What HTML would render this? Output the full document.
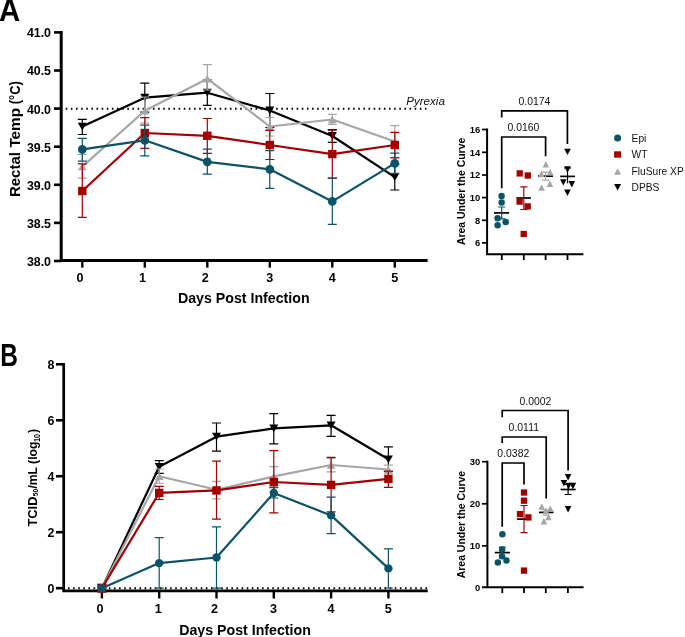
<!DOCTYPE html>
<html><head><meta charset="utf-8"><style>html,body{margin:0;padding:0;background:#fff;width:685px;height:637px;overflow:hidden}svg{display:block;will-change:transform}text{font-family:"Liberation Sans",sans-serif}</style></head>
<body>
<svg width="685" height="637" viewBox="0 0 685 637" font-family="Liberation Sans, sans-serif">
<rect width="685" height="637" fill="#fff"/>
<text transform="translate(-0.9 21.0) scale(0.91 1)" font-size="32.2" font-weight="bold">A</text>
<path d="M61.2 31V261.9M59.7 260.4H427.6" stroke="#000" stroke-width="3" fill="none"/>
<path d="M54 32.40H61" stroke="#000" stroke-width="2.6"/>
<text x="51.00" y="37.30" font-size="12.4" font-weight="bold" text-anchor="end" font-style="normal" fill="#000" >41.0</text>
<path d="M54 70.50H61" stroke="#000" stroke-width="2.6"/>
<text x="51.00" y="75.40" font-size="12.4" font-weight="bold" text-anchor="end" font-style="normal" fill="#000" >40.5</text>
<path d="M54 108.60H61" stroke="#000" stroke-width="2.6"/>
<text x="51.00" y="113.50" font-size="12.4" font-weight="bold" text-anchor="end" font-style="normal" fill="#000" >40.0</text>
<path d="M54 146.70H61" stroke="#000" stroke-width="2.6"/>
<text x="51.00" y="151.60" font-size="12.4" font-weight="bold" text-anchor="end" font-style="normal" fill="#000" >39.5</text>
<path d="M54 184.80H61" stroke="#000" stroke-width="2.6"/>
<text x="51.00" y="189.70" font-size="12.4" font-weight="bold" text-anchor="end" font-style="normal" fill="#000" >39.0</text>
<path d="M54 222.90H61" stroke="#000" stroke-width="2.6"/>
<text x="51.00" y="227.80" font-size="12.4" font-weight="bold" text-anchor="end" font-style="normal" fill="#000" >38.5</text>
<path d="M54 261.00H61" stroke="#000" stroke-width="2.6"/>
<text x="51.00" y="265.90" font-size="12.4" font-weight="bold" text-anchor="end" font-style="normal" fill="#000" >38.0</text>
<path d="M82.30 260H82.30V267.6" stroke="#000" stroke-width="2.4"/>
<text x="80.10" y="281.90" font-size="12.6" font-weight="bold" text-anchor="middle" font-style="normal" fill="#000" >0</text>
<path d="M144.80 260H144.80V267.6" stroke="#000" stroke-width="2.4"/>
<text x="142.60" y="281.90" font-size="12.6" font-weight="bold" text-anchor="middle" font-style="normal" fill="#000" >1</text>
<path d="M207.30 260H207.30V267.6" stroke="#000" stroke-width="2.4"/>
<text x="205.30" y="281.90" font-size="12.6" font-weight="bold" text-anchor="middle" font-style="normal" fill="#000" >2</text>
<path d="M269.80 260H269.80V267.6" stroke="#000" stroke-width="2.4"/>
<text x="269.80" y="281.90" font-size="12.6" font-weight="bold" text-anchor="middle" font-style="normal" fill="#000" >3</text>
<path d="M332.30 260H332.30V267.6" stroke="#000" stroke-width="2.4"/>
<text x="332.30" y="281.90" font-size="12.6" font-weight="bold" text-anchor="middle" font-style="normal" fill="#000" >4</text>
<path d="M394.80 260H394.80V267.6" stroke="#000" stroke-width="2.4"/>
<text x="394.80" y="281.90" font-size="12.6" font-weight="bold" text-anchor="middle" font-style="normal" fill="#000" >5</text>
<text x="243.80" y="303.40" font-size="14.2" font-weight="bold" text-anchor="middle" font-style="normal" fill="#000" >Days Post Infection</text>
<g transform="translate(20.4 0) rotate(-90)" font-size="14" font-weight="bold"><text x="-197.1" textLength="45.1" lengthAdjust="spacingAndGlyphs">Rectal</text><text x="-147.6" textLength="39.6" lengthAdjust="spacingAndGlyphs">Temp</text><text x="-104.3" textLength="23.0" lengthAdjust="spacingAndGlyphs">(°C)</text></g>
<line x1="65.7" y1="108.75" x2="426.4" y2="108.75" stroke="#000" stroke-width="1.9" stroke-dasharray="1.6 3.532"/>
<text x="406.20" y="104.60" font-size="11.6" font-weight="normal" text-anchor="start" font-style="italic" fill="#111" >Pyrexia</text>
<polyline points="82.30,126.60 144.80,97.70 207.30,92.70 269.80,110.50 332.30,136.00 394.80,177.20" stroke="#000" stroke-width="2.2" fill="none" stroke-linejoin="round"/>
<path d="M82.30 119.40V134.50M77.80 119.40h9M77.80 134.50h9" stroke="#000" stroke-width="1.2" fill="none"/>
<path d="M144.80 83.20V112.20M140.30 83.20h9M140.30 112.20h9" stroke="#000" stroke-width="1.2" fill="none"/>
<path d="M207.30 80.00V105.30M202.80 80.00h9M202.80 105.30h9" stroke="#000" stroke-width="1.2" fill="none"/>
<path d="M269.80 93.50V127.50M265.30 93.50h9M265.30 127.50h9" stroke="#000" stroke-width="1.2" fill="none"/>
<path d="M332.30 129.60V142.40M327.80 129.60h9M327.80 142.40h9" stroke="#000" stroke-width="1.2" fill="none"/>
<path d="M394.80 164.40V190.00M390.30 164.40h9M390.30 190.00h9" stroke="#000" stroke-width="1.2" fill="none"/>
<path d="M77.80 122.70H86.80L82.30 130.50Z" fill="#000"/>
<path d="M140.30 93.80H149.30L144.80 101.60Z" fill="#000"/>
<path d="M202.80 88.80H211.80L207.30 96.60Z" fill="#000"/>
<path d="M265.30 106.60H274.30L269.80 114.40Z" fill="#000"/>
<path d="M327.80 132.10H336.80L332.30 139.90Z" fill="#000"/>
<path d="M390.30 173.30H399.30L394.80 181.10Z" fill="#000"/>
<polyline points="82.30,166.60 144.80,110.80 207.30,78.70 269.80,126.50 332.30,119.50 394.80,141.50" stroke="#a6a6a8" stroke-width="2.2" fill="none" stroke-linejoin="round"/>
<path d="M82.30 154.40V178.20M77.80 154.40h9M77.80 178.20h9" stroke="#a6a6a8" stroke-width="1.2" fill="none"/>
<path d="M144.80 97.00V123.10M140.30 97.00h9M140.30 123.10h9" stroke="#a6a6a8" stroke-width="1.2" fill="none"/>
<path d="M207.30 64.60V90.00M202.80 64.60h9M202.80 90.00h9" stroke="#a6a6a8" stroke-width="1.2" fill="none"/>
<path d="M269.80 117.50V136.00M265.30 117.50h9M265.30 136.00h9" stroke="#a6a6a8" stroke-width="1.2" fill="none"/>
<path d="M332.30 114.30V124.30M327.80 114.30h9M327.80 124.30h9" stroke="#a6a6a8" stroke-width="1.2" fill="none"/>
<path d="M394.80 125.60V157.40M390.30 125.60h9M390.30 157.40h9" stroke="#a6a6a8" stroke-width="1.2" fill="none"/>
<path d="M82.30 162.85L86.60 170.35H78.00Z" fill="#a6a6a8"/>
<path d="M144.80 107.05L149.10 114.55H140.50Z" fill="#a6a6a8"/>
<path d="M207.30 74.95L211.60 82.45H203.00Z" fill="#a6a6a8"/>
<path d="M269.80 122.75L274.10 130.25H265.50Z" fill="#a6a6a8"/>
<path d="M332.30 115.75L336.60 123.25H328.00Z" fill="#a6a6a8"/>
<path d="M394.80 137.75L399.10 145.25H390.50Z" fill="#a6a6a8"/>
<polyline points="82.30,191.00 144.80,133.00 207.30,135.80 269.80,145.00 332.30,154.10 394.80,145.00" stroke="#a50000" stroke-width="2.2" fill="none" stroke-linejoin="round"/>
<path d="M82.30 163.90V217.40M77.80 163.90h9M77.80 217.40h9" stroke="#a50000" stroke-width="1.2" fill="none"/>
<path d="M144.80 117.70V148.30M140.30 117.70h9M140.30 148.30h9" stroke="#a50000" stroke-width="1.2" fill="none"/>
<path d="M207.30 118.50V153.40M202.80 118.50h9M202.80 153.40h9" stroke="#a50000" stroke-width="1.2" fill="none"/>
<path d="M269.80 130.30V159.50M265.30 130.30h9M265.30 159.50h9" stroke="#a50000" stroke-width="1.2" fill="none"/>
<path d="M332.30 130.10V178.20M327.80 130.10h9M327.80 178.20h9" stroke="#a50000" stroke-width="1.2" fill="none"/>
<path d="M394.80 132.30V157.90M390.30 132.30h9M390.30 157.90h9" stroke="#a50000" stroke-width="1.2" fill="none"/>
<rect x="78.10" y="186.80" width="8.40" height="8.40" fill="#a50000"/>
<rect x="140.60" y="128.80" width="8.40" height="8.40" fill="#a50000"/>
<rect x="203.10" y="131.60" width="8.40" height="8.40" fill="#a50000"/>
<rect x="265.60" y="140.80" width="8.40" height="8.40" fill="#a50000"/>
<rect x="328.10" y="149.90" width="8.40" height="8.40" fill="#a50000"/>
<rect x="390.60" y="140.80" width="8.40" height="8.40" fill="#a50000"/>
<polyline points="82.30,149.40 144.80,140.30 207.30,161.90 269.80,169.30 332.30,201.40 394.80,163.40" stroke="#0b5468" stroke-width="2.2" fill="none" stroke-linejoin="round"/>
<path d="M82.30 138.30V161.20M77.80 138.30h9M77.80 161.20h9" stroke="#0b5468" stroke-width="1.2" fill="none"/>
<path d="M144.80 125.20V155.90M140.30 125.20h9M140.30 155.90h9" stroke="#0b5468" stroke-width="1.2" fill="none"/>
<path d="M207.30 149.10V174.20M202.80 149.10h9M202.80 174.20h9" stroke="#0b5468" stroke-width="1.2" fill="none"/>
<path d="M269.80 150.70V188.40M265.30 150.70h9M265.30 188.40h9" stroke="#0b5468" stroke-width="1.2" fill="none"/>
<path d="M332.30 178.20V224.40M327.80 178.20h9M327.80 224.40h9" stroke="#0b5468" stroke-width="1.2" fill="none"/>
<path d="M394.80 153.20V173.40M390.30 153.20h9M390.30 173.40h9" stroke="#0b5468" stroke-width="1.2" fill="none"/>
<circle cx="82.30" cy="149.40" r="4.35" fill="#0b5468"/>
<circle cx="144.80" cy="140.30" r="4.35" fill="#0b5468"/>
<circle cx="207.30" cy="161.90" r="4.35" fill="#0b5468"/>
<circle cx="269.80" cy="169.30" r="4.35" fill="#0b5468"/>
<circle cx="332.30" cy="201.40" r="4.35" fill="#0b5468"/>
<circle cx="394.80" cy="163.40" r="4.35" fill="#0b5468"/>
<path d="M487.1 128.6V255.3M486.1 254.3H583.4" stroke="#000" stroke-width="2"/>
<path d="M482 129.50H487" stroke="#000" stroke-width="1.7"/>
<text x="480.30" y="132.90" font-size="9.4" font-weight="bold" text-anchor="end" font-style="normal" fill="#000" >16</text>
<path d="M482 152.30H487" stroke="#000" stroke-width="1.7"/>
<text x="480.30" y="155.70" font-size="9.4" font-weight="bold" text-anchor="end" font-style="normal" fill="#000" >14</text>
<path d="M482 175.00H487" stroke="#000" stroke-width="1.7"/>
<text x="480.30" y="178.40" font-size="9.4" font-weight="bold" text-anchor="end" font-style="normal" fill="#000" >12</text>
<path d="M482 197.60H487" stroke="#000" stroke-width="1.7"/>
<text x="480.30" y="201.00" font-size="9.4" font-weight="bold" text-anchor="end" font-style="normal" fill="#000" >10</text>
<path d="M482 220.30H487" stroke="#000" stroke-width="1.7"/>
<text x="480.30" y="223.70" font-size="9.4" font-weight="bold" text-anchor="end" font-style="normal" fill="#000" >8</text>
<path d="M482 242.90H487" stroke="#000" stroke-width="1.7"/>
<text x="480.30" y="246.30" font-size="9.4" font-weight="bold" text-anchor="end" font-style="normal" fill="#000" >6</text>
<path d="M501.80 254V260" stroke="#000" stroke-width="1.8"/>
<path d="M523.80 254V260" stroke="#000" stroke-width="1.8"/>
<path d="M545.60 254V260" stroke="#000" stroke-width="1.8"/>
<path d="M567.50 254V260" stroke="#000" stroke-width="1.8"/>
<text transform="translate(464.8 191.4) rotate(-90)" font-size="10.45" font-weight="bold" text-anchor="middle">Area Under the Curve</text>
<path d="M501.7 188.3V137H545.6V156.3" stroke="#000" stroke-width="1.7" fill="none"/>
<path d="M501.7 117.4V110.9H567.4V144" stroke="#000" stroke-width="1.7" fill="none"/>
<text x="523.40" y="131.00" font-size="10.45" font-weight="normal" text-anchor="middle" font-style="normal" fill="#111" >0.0160</text>
<text x="534.40" y="105.20" font-size="10.45" font-weight="normal" text-anchor="middle" font-style="normal" fill="#111" >0.0174</text>
<path d="M560.20 176.40H575.00" stroke="#000" stroke-width="1.7"/>
<path d="M564.20 148.70H570.80L567.50 155.10Z" fill="#000"/>
<path d="M564.20 166.30H570.80L567.50 172.70Z" fill="#000"/>
<path d="M560.00 179.20H566.60L563.30 185.60Z" fill="#000"/>
<path d="M568.50 181.00H575.10L571.80 187.40Z" fill="#000"/>
<path d="M564.20 189.50H570.80L567.50 195.90Z" fill="#000"/>
<path d="M567.50 168.00V183.30M564.00 168.00h7" stroke="#000" stroke-width="1.2" fill="none"/>
<path d="M538.00 176.10H553.00" stroke="#000" stroke-width="1.7"/>
<path d="M545.80 161.00L549.10 167.40H542.50Z" fill="#a6a6a8"/>
<path d="M550.20 169.00L553.50 175.40H546.90Z" fill="#a6a6a8"/>
<path d="M541.40 170.80L544.70 177.20H538.10Z" fill="#a6a6a8"/>
<path d="M549.90 180.50L553.20 186.90H546.60Z" fill="#a6a6a8"/>
<path d="M541.60 184.30L544.90 190.70H538.30Z" fill="#a6a6a8"/>
<path d="M545.60 172.20V180.20M542.10 172.20h7M542.10 180.20h7" stroke="#a6a6a8" stroke-width="1.2" fill="none"/>
<path d="M516.40 198.00H530.90" stroke="#000" stroke-width="1.7"/>
<rect x="516.55" y="170.25" width="6.30" height="6.30" fill="#a50000"/>
<rect x="524.65" y="172.35" width="6.30" height="6.30" fill="#a50000"/>
<rect x="516.45" y="198.45" width="6.30" height="6.30" fill="#a50000"/>
<rect x="524.55" y="203.25" width="6.30" height="6.30" fill="#a50000"/>
<rect x="520.55" y="230.85" width="6.30" height="6.30" fill="#a50000"/>
<path d="M523.80 186.90V209.50M520.30 186.90h7M520.30 209.50h7" stroke="#a50000" stroke-width="1.2" fill="none"/>
<path d="M494.00 212.90H509.10" stroke="#000" stroke-width="1.7"/>
<circle cx="501.60" cy="196.10" r="3.25" fill="#0b5468"/>
<circle cx="501.60" cy="202.40" r="3.25" fill="#0b5468"/>
<circle cx="497.60" cy="218.30" r="3.25" fill="#0b5468"/>
<circle cx="505.70" cy="222.10" r="3.25" fill="#0b5468"/>
<circle cx="497.60" cy="225.20" r="3.25" fill="#0b5468"/>
<path d="M501.70 207.00V218.80M498.20 207.00h7M498.20 218.80h7" stroke="#0b5468" stroke-width="1.2" fill="none"/>
<circle cx="617.6" cy="138" r="3.5" fill="#0b5468"/>
<rect x="614.1" y="151.3" width="7" height="6.4" fill="#a50000"/>
<path d="M617.60 168.30L621.10 174.70H614.10Z" fill="#a6a6a8"/>
<path d="M614.10 184.00H621.10L617.60 190.40Z" fill="#000"/>
<text x="631.60" y="141.60" font-size="10.2" font-weight="normal" text-anchor="start" font-style="normal" fill="#111" >Epi</text>
<text x="631.60" y="157.90" font-size="10.2" font-weight="normal" text-anchor="start" font-style="normal" fill="#111" >WT</text>
<text x="631.60" y="174.60" font-size="10.2" font-weight="normal" text-anchor="start" font-style="normal" fill="#111" >FluSure XP</text>
<text x="631.60" y="190.60" font-size="10.2" font-weight="normal" text-anchor="start" font-style="normal" fill="#111" >DPBS</text>
<text transform="translate(0.3 365.8) scale(0.77 1)" font-size="31.8" font-weight="bold">B</text>
<path d="M63.7 363.0V592.2M62.3 590.8H427.7" stroke="#000" stroke-width="2.7" fill="none"/>
<path d="M56 364.30H63" stroke="#000" stroke-width="2.6"/>
<text x="54.30" y="368.90" font-size="12.4" font-weight="bold" text-anchor="end" font-style="normal" fill="#000" >8</text>
<path d="M56 420.27H63" stroke="#000" stroke-width="2.6"/>
<text x="54.30" y="424.87" font-size="12.4" font-weight="bold" text-anchor="end" font-style="normal" fill="#000" >6</text>
<path d="M56 476.24H63" stroke="#000" stroke-width="2.6"/>
<text x="54.30" y="480.84" font-size="12.4" font-weight="bold" text-anchor="end" font-style="normal" fill="#000" >4</text>
<path d="M56 532.21H63" stroke="#000" stroke-width="2.6"/>
<text x="54.30" y="536.81" font-size="12.4" font-weight="bold" text-anchor="end" font-style="normal" fill="#000" >2</text>
<path d="M56 588.18H63" stroke="#000" stroke-width="2.6"/>
<text x="54.30" y="592.78" font-size="12.4" font-weight="bold" text-anchor="end" font-style="normal" fill="#000" >0</text>
<path d="M101.90 590H101.90V598.5" stroke="#000" stroke-width="2.4"/>
<text x="100.10" y="612.50" font-size="12.6" font-weight="bold" text-anchor="middle" font-style="normal" fill="#000" >0</text>
<path d="M159.20 590H159.20V598.5" stroke="#000" stroke-width="2.4"/>
<text x="158.20" y="612.50" font-size="12.6" font-weight="bold" text-anchor="middle" font-style="normal" fill="#000" >1</text>
<path d="M216.50 590H216.50V598.5" stroke="#000" stroke-width="2.4"/>
<text x="214.50" y="612.50" font-size="12.6" font-weight="bold" text-anchor="middle" font-style="normal" fill="#000" >2</text>
<path d="M273.80 590H273.80V598.5" stroke="#000" stroke-width="2.4"/>
<text x="273.40" y="612.50" font-size="12.6" font-weight="bold" text-anchor="middle" font-style="normal" fill="#000" >3</text>
<path d="M331.10 590H331.10V598.5" stroke="#000" stroke-width="2.4"/>
<text x="331.10" y="612.50" font-size="12.6" font-weight="bold" text-anchor="middle" font-style="normal" fill="#000" >4</text>
<path d="M388.40 590H388.40V598.5" stroke="#000" stroke-width="2.4"/>
<text x="388.30" y="612.50" font-size="12.6" font-weight="bold" text-anchor="middle" font-style="normal" fill="#000" >5</text>
<text x="245.00" y="634.50" font-size="14.2" font-weight="bold" text-anchor="middle" font-style="normal" fill="#000" >Days Post Infection</text>
<g transform="translate(36.9 0) rotate(-90)" font-size="12.4" font-weight="bold"><text x="-526.5" textLength="29.9" lengthAdjust="spacingAndGlyphs">TCID</text><text x="-496.3" dy="0.9" font-size="7.8" font-weight="bold" textLength="7.4" lengthAdjust="spacingAndGlyphs">50</text><text x="-488.6" textLength="46.9" lengthAdjust="spacingAndGlyphs">/mL (log</text><text x="-442.0" dy="2.7" font-size="8.4" font-weight="bold" textLength="8.2" lengthAdjust="spacingAndGlyphs">10</text><text x="-432.9" textLength="4.1" lengthAdjust="spacingAndGlyphs">)</text></g>
<line x1="68.0" y1="588.25" x2="427" y2="588.25" stroke="#000" stroke-width="1.9" stroke-dasharray="1.6 3.506"/>
<polyline points="101.90,588.20 159.20,466.80 216.50,436.70 273.80,428.40 331.10,425.30 388.40,459.30" stroke="#000" stroke-width="2.2" fill="none" stroke-linejoin="round"/>
<path d="M159.20 460.60V473.30M154.70 460.60h9M154.70 473.30h9" stroke="#000" stroke-width="1.2" fill="none"/>
<path d="M216.50 423.00V451.20M212.00 423.00h9M212.00 451.20h9" stroke="#000" stroke-width="1.2" fill="none"/>
<path d="M273.80 413.60V443.80M269.30 413.60h9M269.30 443.80h9" stroke="#000" stroke-width="1.2" fill="none"/>
<path d="M331.10 415.40V436.40M326.60 415.40h9M326.60 436.40h9" stroke="#000" stroke-width="1.2" fill="none"/>
<path d="M388.40 446.80V471.50M383.90 446.80h9M383.90 471.50h9" stroke="#000" stroke-width="1.2" fill="none"/>
<path d="M97.40 584.30H106.40L101.90 592.10Z" fill="#000"/>
<path d="M154.70 462.90H163.70L159.20 470.70Z" fill="#000"/>
<path d="M212.00 432.80H221.00L216.50 440.60Z" fill="#000"/>
<path d="M269.30 424.50H278.30L273.80 432.30Z" fill="#000"/>
<path d="M326.60 421.40H335.60L331.10 429.20Z" fill="#000"/>
<path d="M383.90 455.40H392.90L388.40 463.20Z" fill="#000"/>
<polyline points="101.90,588.20 159.20,476.30 216.50,489.80 273.80,476.40 331.10,465.00 388.40,469.50" stroke="#a6a6a8" stroke-width="2.2" fill="none" stroke-linejoin="round"/>
<path d="M159.20 469.00V483.50M154.70 469.00h9M154.70 483.50h9" stroke="#a6a6a8" stroke-width="1.2" fill="none"/>
<path d="M216.50 481.40V498.90M212.00 481.40h9M212.00 498.90h9" stroke="#a6a6a8" stroke-width="1.2" fill="none"/>
<path d="M273.80 466.60V486.20M269.30 466.60h9M269.30 486.20h9" stroke="#a6a6a8" stroke-width="1.2" fill="none"/>
<path d="M331.10 458.50V471.90M326.60 458.50h9M326.60 471.90h9" stroke="#a6a6a8" stroke-width="1.2" fill="none"/>
<path d="M388.40 465.20V473.30M383.90 465.20h9M383.90 473.30h9" stroke="#a6a6a8" stroke-width="1.2" fill="none"/>
<path d="M101.90 584.45L106.20 591.95H97.60Z" fill="#a6a6a8"/>
<path d="M159.20 472.55L163.50 480.05H154.90Z" fill="#a6a6a8"/>
<path d="M216.50 486.05L220.80 493.55H212.20Z" fill="#a6a6a8"/>
<path d="M273.80 472.65L278.10 480.15H269.50Z" fill="#a6a6a8"/>
<path d="M331.10 461.25L335.40 468.75H326.80Z" fill="#a6a6a8"/>
<path d="M388.40 465.75L392.70 473.25H384.10Z" fill="#a6a6a8"/>
<polyline points="101.90,588.20 159.20,492.90 216.50,490.40 273.80,482.00 331.10,484.90 388.40,478.90" stroke="#a50000" stroke-width="2.2" fill="none" stroke-linejoin="round"/>
<path d="M159.20 486.30V499.50M154.70 486.30h9M154.70 499.50h9" stroke="#a50000" stroke-width="1.2" fill="none"/>
<path d="M216.50 461.20V519.20M212.00 461.20h9M212.00 519.20h9" stroke="#a50000" stroke-width="1.2" fill="none"/>
<path d="M273.80 450.70V512.80M269.30 450.70h9M269.30 512.80h9" stroke="#a50000" stroke-width="1.2" fill="none"/>
<path d="M331.10 457.40V511.90M326.60 457.40h9M326.60 511.90h9" stroke="#a50000" stroke-width="1.2" fill="none"/>
<path d="M388.40 471.10V487.40M383.90 471.10h9M383.90 487.40h9" stroke="#a50000" stroke-width="1.2" fill="none"/>
<rect x="97.30" y="583.60" width="9.20" height="9.20" fill="#a50000"/>
<rect x="155.00" y="488.70" width="8.40" height="8.40" fill="#a50000"/>
<rect x="212.30" y="486.20" width="8.40" height="8.40" fill="#a50000"/>
<rect x="269.60" y="477.80" width="8.40" height="8.40" fill="#a50000"/>
<rect x="326.90" y="480.70" width="8.40" height="8.40" fill="#a50000"/>
<rect x="384.20" y="474.70" width="8.40" height="8.40" fill="#a50000"/>
<polyline points="101.90,588.20 159.20,563.10 216.50,557.50 273.80,493.00 331.10,515.40 388.40,568.40" stroke="#0b5468" stroke-width="2.2" fill="none" stroke-linejoin="round"/>
<path d="M159.20 537.70V588.20M154.70 537.70h9M154.70 588.20h9" stroke="#0b5468" stroke-width="1.2" fill="none"/>
<path d="M216.50 526.80V588.20M212.00 526.80h9M212.00 588.20h9" stroke="#0b5468" stroke-width="1.2" fill="none"/>
<path d="M273.80 487.70V498.00M269.30 487.70h9M269.30 498.00h9" stroke="#0b5468" stroke-width="1.2" fill="none"/>
<path d="M331.10 497.10V533.60M326.60 497.10h9M326.60 533.60h9" stroke="#0b5468" stroke-width="1.2" fill="none"/>
<path d="M388.40 548.90V588.00M383.90 548.90h9M383.90 588.00h9" stroke="#0b5468" stroke-width="1.2" fill="none"/>
<circle cx="101.90" cy="588.20" r="4.20" fill="#0b5468"/>
<circle cx="159.20" cy="563.10" r="4.20" fill="#0b5468"/>
<circle cx="216.50" cy="557.50" r="4.20" fill="#0b5468"/>
<circle cx="273.80" cy="493.00" r="4.20" fill="#0b5468"/>
<circle cx="331.10" cy="515.40" r="4.20" fill="#0b5468"/>
<circle cx="388.40" cy="568.40" r="4.20" fill="#0b5468"/>
<path d="M487.4 460.85V588.2M482 587.2H583.6" stroke="#000" stroke-width="2"/>
<path d="M482 461.70H487" stroke="#000" stroke-width="1.7"/>
<text x="480.30" y="465.10" font-size="9.4" font-weight="bold" text-anchor="end" font-style="normal" fill="#000" >30</text>
<path d="M482 503.80H487" stroke="#000" stroke-width="1.7"/>
<text x="480.30" y="507.20" font-size="9.4" font-weight="bold" text-anchor="end" font-style="normal" fill="#000" >20</text>
<path d="M482 545.90H487" stroke="#000" stroke-width="1.7"/>
<text x="480.30" y="549.30" font-size="9.4" font-weight="bold" text-anchor="end" font-style="normal" fill="#000" >10</text>
<text x="480.30" y="590.60" font-size="9.4" font-weight="bold" text-anchor="end" font-style="normal" fill="#000" >0</text>
<path d="M502.30 587V593.1" stroke="#000" stroke-width="1.8"/>
<path d="M524.00 587V593.1" stroke="#000" stroke-width="1.8"/>
<path d="M545.80 587V593.1" stroke="#000" stroke-width="1.8"/>
<path d="M567.90 587V593.1" stroke="#000" stroke-width="1.8"/>
<text transform="translate(465.0 524.6) rotate(-90)" font-size="10.45" font-weight="bold" text-anchor="middle">Area Under the Curve</text>
<path d="M502.2 526.7V463H524V484.6" stroke="#000" stroke-width="1.7" fill="none"/>
<path d="M502.2 442.9V437H546.2V498.4" stroke="#000" stroke-width="1.7" fill="none"/>
<path d="M502.2 417.2V410.5H568.1V470.5" stroke="#000" stroke-width="1.7" fill="none"/>
<text x="513.30" y="457.20" font-size="10.45" font-weight="normal" text-anchor="middle" font-style="normal" fill="#111" >0.0382</text>
<text x="523.80" y="430.80" font-size="10.45" font-weight="normal" text-anchor="middle" font-style="normal" fill="#111" >0.0111</text>
<text x="535.40" y="404.70" font-size="10.45" font-weight="normal" text-anchor="middle" font-style="normal" fill="#111" >0.0002</text>
<path d="M560.60 489.50H575.70" stroke="#000" stroke-width="1.7"/>
<path d="M564.80 474.10H571.40L568.10 480.50Z" fill="#000"/>
<path d="M560.60 480.00H567.20L563.90 486.40Z" fill="#000"/>
<path d="M565.30 482.80H571.90L568.60 489.20Z" fill="#000"/>
<path d="M569.60 482.80H576.20L572.90 489.20Z" fill="#000"/>
<path d="M564.80 506.00H571.40L568.10 512.40Z" fill="#000"/>
<path d="M568.10 484.50V494.50M564.60 484.50h7M564.60 494.50h7" stroke="#000" stroke-width="1.2" fill="none"/>
<path d="M539.00 512.40H553.50" stroke="#000" stroke-width="1.7"/>
<path d="M541.80 503.30L545.10 509.70H538.50Z" fill="#a6a6a8"/>
<path d="M550.30 505.40L553.60 511.80H547.00Z" fill="#a6a6a8"/>
<path d="M546.00 507.30L549.30 513.70H542.70Z" fill="#a6a6a8"/>
<path d="M548.40 513.90L551.70 520.30H545.10Z" fill="#a6a6a8"/>
<path d="M543.90 518.10L547.20 524.50H540.60Z" fill="#a6a6a8"/>
<path d="M546.00 510.00V515.20M542.50 510.00h7M542.50 515.20h7" stroke="#a6a6a8" stroke-width="1.2" fill="none"/>
<path d="M517.00 519.10H531.00" stroke="#000" stroke-width="1.7"/>
<rect x="520.85" y="489.35" width="6.30" height="6.30" fill="#a50000"/>
<rect x="520.85" y="497.55" width="6.30" height="6.30" fill="#a50000"/>
<rect x="516.85" y="510.95" width="6.30" height="6.30" fill="#a50000"/>
<rect x="525.25" y="514.25" width="6.30" height="6.30" fill="#a50000"/>
<rect x="520.85" y="567.45" width="6.30" height="6.30" fill="#a50000"/>
<path d="M524.00 505.50V532.70M520.50 505.50h7M520.50 532.70h7" stroke="#a50000" stroke-width="1.2" fill="none"/>
<path d="M494.80 552.60H509.90" stroke="#000" stroke-width="1.7"/>
<circle cx="502.40" cy="534.20" r="3.25" fill="#0b5468"/>
<circle cx="502.10" cy="549.60" r="3.25" fill="#0b5468"/>
<circle cx="502.00" cy="556.30" r="3.25" fill="#0b5468"/>
<circle cx="506.50" cy="560.40" r="3.25" fill="#0b5468"/>
<circle cx="497.90" cy="562.40" r="3.25" fill="#0b5468"/>
<path d="M502.40 547.20V558.00M498.90 547.20h7M498.90 558.00h7" stroke="#0b5468" stroke-width="1.2" fill="none"/>
</svg>
</body></html>
